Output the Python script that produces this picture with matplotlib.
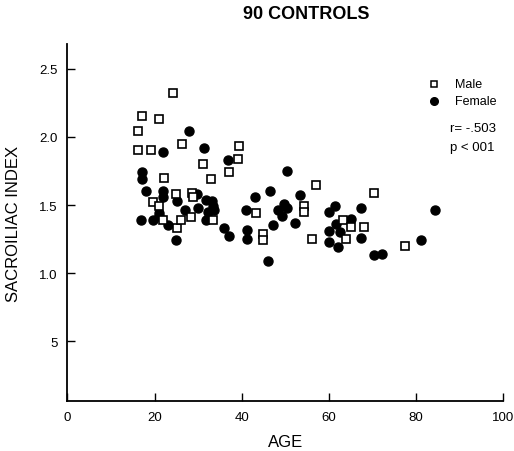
import numpy as np
import matplotlib
matplotlib.use('Agg')
import matplotlib.pyplot as plt

plt.rcParams['font.family'] = ['Liberation Sans', 'DejaVu Sans']

# values
male_age = [24.3, 17.1, 21.1, 16.1, 16.3, 19.1, 26.2, 31.2, 32.9, 22.2,
            24.9, 28.5, 28.8, 19.7, 21.1, 39.4, 39.2, 37.2, 57.0, 70.4,
            43.3, 54.3, 54.3, 44.8, 44.8, 56.2, 63.2, 65.0, 68.0, 63.9,
            77.5, 22.0, 25.1, 26.0, 28.3, 33.5]
male_si = [2.32, 2.15, 2.13, 2.04, 1.90, 1.90, 1.95, 1.80, 1.69, 1.70,
           1.58, 1.59, 1.56, 1.52, 1.49, 1.93, 1.84, 1.74, 1.65, 1.59,
           1.44, 1.49, 1.45, 1.29, 1.24, 1.25, 1.39, 1.34, 1.34, 1.25,
           1.20, 1.39, 1.33, 1.39, 1.41, 1.39]

female_age = [28.0, 22.0, 31.4, 17.1, 17.1, 18.1, 22.0, 22.0, 29.8, 36.9,
              50.5, 46.5, 43.1, 53.4, 49.8, 41.1, 48.4, 50.3, 49.2, 52.2,
              47.1, 35.9, 37.1, 41.3, 41.3, 46.1, 61.4, 60.1, 67.3, 84.3,
              65.1, 61.7, 60.1, 62.5, 67.3, 60.1, 62.2, 70.3, 72.3, 81.2,
              25.1, 26.9, 29.9, 31.8, 33.1, 33.5, 33.6, 21.1, 16.8, 19.7,
              23.0, 24.9, 31.7, 32.3, 21.0]
female_si = [2.04, 1.89, 1.92, 1.74, 1.69, 1.60, 1.60, 1.56, 1.58, 1.83,
             1.75, 1.60, 1.56, 1.57, 1.51, 1.46, 1.46, 1.48, 1.42, 1.37,
             1.35, 1.33, 1.27, 1.32, 1.25, 1.09, 1.49, 1.45, 1.48, 1.46,
             1.40, 1.36, 1.31, 1.30, 1.26, 1.23, 1.19, 1.13, 1.14, 1.24,
             1.53, 1.46, 1.48, 1.54, 1.53, 1.49, 1.46, 1.44, 1.39, 1.39,
             1.35, 1.24, 1.39, 1.45, 1.42]

xticks = [0, 20, 40, 60, 80, 100]
yticks = [0.5, 1.0, 1.5, 2.0, 2.5]
ytick_labels = ['5', '1.0', '1.5', '2.0', '2.5']

fig = plt.figure(figsize=(5.14, 4.52), dpi=100)
ax = fig.add_axes([0.131, 0.111, 0.848, 0.789])

ax.plot(female_age, female_si, 'o', color='black', ms=6.5, mec='black')
ax.plot(male_age, male_si, 's', mfc='white', mec='black', ms=5.3, mew=1.2)

ax.set_xlim(0, 100)
ax.set_ylim(0.063, 2.68)
ax.set_xticks(xticks)
ax.set_yticks(yticks)
ax.set_yticklabels(ytick_labels)
ax.spines['top'].set_visible(False)
ax.spines['right'].set_visible(False)
for s in ['left', 'bottom']:
    ax.spines[s].set_linewidth(1.3)
ax.tick_params(direction='in', length=6, width=1, labelsize=9.5, pad=7)

ax.set_xlabel('AGE', fontsize=12, labelpad=8)
ax.set_ylabel('SACROILIAC INDEX', fontsize=12, labelpad=13)
fig.text(0.595, 0.967, '90 CONTROLS', fontsize=13, fontweight='bold',
         ha='center', va='center')

# legend / stats block
ax.plot([0.845], [0.812], 's', mfc='white', mec='black', ms=5, mew=1.1,
        transform=fig.transFigure, clip_on=False)
ax.plot([0.845], [0.774], 'o', color='black', ms=5.5,
        transform=fig.transFigure, clip_on=False)
fig.text(0.885, 0.812, 'Male', fontsize=9, va='center')
fig.text(0.885, 0.774, 'Female', fontsize=9, va='center')
fig.text(0.875, 0.715, 'r= -.503', fontsize=9.5, va='center')
fig.text(0.875, 0.673, 'p < 001', fontsize=9.5, va='center')

fig.savefig('out.png', dpi=100)
